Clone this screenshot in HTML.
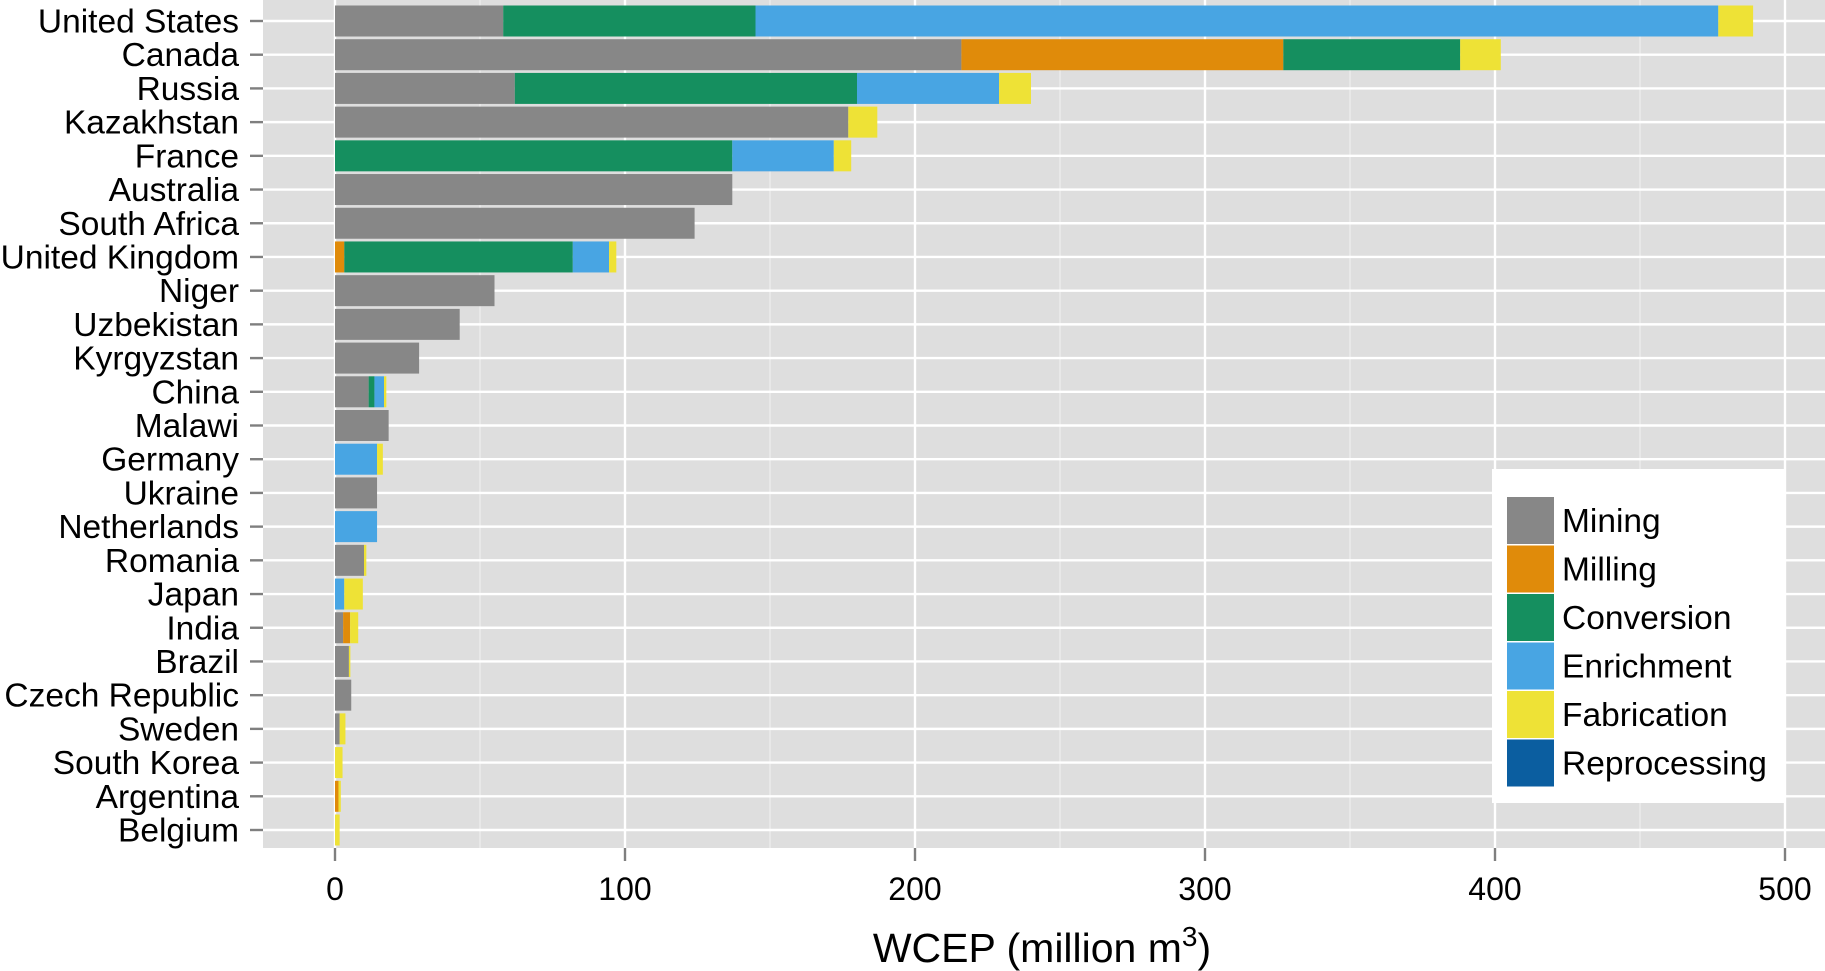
<!DOCTYPE html>
<html><head><meta charset="utf-8"><style>
html,body{margin:0;padding:0;background:#fff;}
svg{display:block;font-family:"Liberation Sans",sans-serif;}
</style></head><body>
<svg id="chart" width="1825" height="971" viewBox="0 0 1825 971"></svg>
<script>
const countries=["United States","Canada","Russia","Kazakhstan","France","Australia","South Africa","United Kingdom","Niger","Uzbekistan","Kyrgyzstan","China","Malawi","Germany","Ukraine","Netherlands","Romania","Japan","India","Brazil","Czech Republic","Sweden","South Korea","Argentina","Belgium"];
const stages=["Mining","Milling","Conversion","Enrichment","Fabrication","Reprocessing"];
const stageColors=["#878787","#E08B0A","#158F5F","#48A5E3","#EEE236","#0B5EA0"];
const mining=[58,216,62,177,0,137,124,0,55,43,29,11.6,18.5,0,14.5,0,10,0,2.8,4.8,5.6,1.6,0,0,0];
const milling=[0,111,0,0,0,0,0,3.2,0,0,0,0,0,0,0,0,0,0,2.4,0,0,0,0,1.2,0];
const conversion=[87,61,118,0,137,0,0,78.8,0,0,0,2,0,0,0,0,0,0,0,0,0,0,0,0,0];
const enrichment=[332,0,49,0,35,0,0,12.5,0,0,0,3.3,0,14.5,0,14.5,0,3.2,0,0,0,0,0,0,0];
const fabrication=[12,14,11,10,6,0,0,2.5,0,0,0,0.8,0,2,0,0,0.8,6.4,2.8,0.5,0,2,2.6,0.8,1.6];
const reprocessing=[0,0,0,0,0,0,0,0,0,0,0,0,0,0,0,0,0,0,0,0,0,0,0,0,0];
const xTicks=[0,100,200,300,400,500];
const xMinor=[50,150,250,350,450];

const NS="http://www.w3.org/2000/svg";
const svg=document.getElementById('chart');
const pL=263,pR=1825,pT=0,pB=848;
const x=v=>335+v*2.9;
const rowStep=(830-21)/(countries.length-1);
const y=i=>21+i*rowStep;
function mk(tag,attrs,parent){const e=document.createElementNS(NS,tag);for(const k in attrs)e.setAttribute(k,attrs[k]);(parent||svg).appendChild(e);return e;}

const panel=mk('rect',{x:pL,y:pT,width:pR-pL,height:pB-pT,fill:'#DEDEDE'});


xMinor.forEach(v=>{const l=mk('line',{x1:x(v),x2:x(v),y1:pT,y2:pB,stroke:'#EEEEEE','stroke-width':1.2});

});
xTicks.forEach(v=>{const l=mk('line',{x1:x(v),x2:x(v),y1:pT,y2:pB,stroke:'#fff','stroke-width':2.4});

});
countries.forEach((c,i)=>{const l=mk('line',{x1:pL,x2:pR,y1:y(i),y2:y(i),stroke:'#fff','stroke-width':2.4});

});

const series=[mining,milling,conversion,enrichment,fabrication,reprocessing];
const bh=31;
countries.forEach((c,i)=>{
  let acc=0;
  series.forEach((s,k)=>{
    const v=s[i];
    if(v>0){
      const r=mk('rect',{x:x(acc),y:y(i)-bh/2,width:x(acc+v)-x(acc),height:bh,fill:stageColors[k]});
      
      
    }
    acc+=v;
  });
  const t=mk('line',{x1:250,x2:263,y1:y(i),y2:y(i),stroke:'#7f7f7f','stroke-width':2.4});
  
  
  const lab=mk('text',{x:239,y:y(i)+11.5,'text-anchor':'end','font-size':33.5,fill:'#000'});
  lab.textContent=c;
  
  
});
xTicks.forEach(v=>{
  const t=mk('line',{x1:x(v),x2:x(v),y1:pB,y2:pB+13,stroke:'#7f7f7f','stroke-width':2.4});
  
  
  const lab=mk('text',{x:x(v),y:900,'text-anchor':'middle','font-size':32,fill:'#000'});
  lab.textContent=v;
  
  
});
const title=mk('text',{x:1042,y:962,'text-anchor':'middle','font-size':41,fill:'#000'});


title.innerHTML='WCEP (million m<tspan dy="-16" font-size="28">3</tspan><tspan dy="16">)</tspan>';

const lg=mk('g',{});


mk('rect',{x:1492,y:469,width:293,height:334,fill:'#fff'},lg);
stages.forEach((s,k)=>{
  const ky=497+k*48.5;
  const r=mk('rect',{x:1507,y:ky,width:47,height:47,fill:stageColors[k]},lg);
  
  
  const t=mk('text',{x:1562,y:ky+35,'font-size':33.5,fill:'#000'},lg);
  t.textContent=s;
  
  
});
</script>
</body></html>
